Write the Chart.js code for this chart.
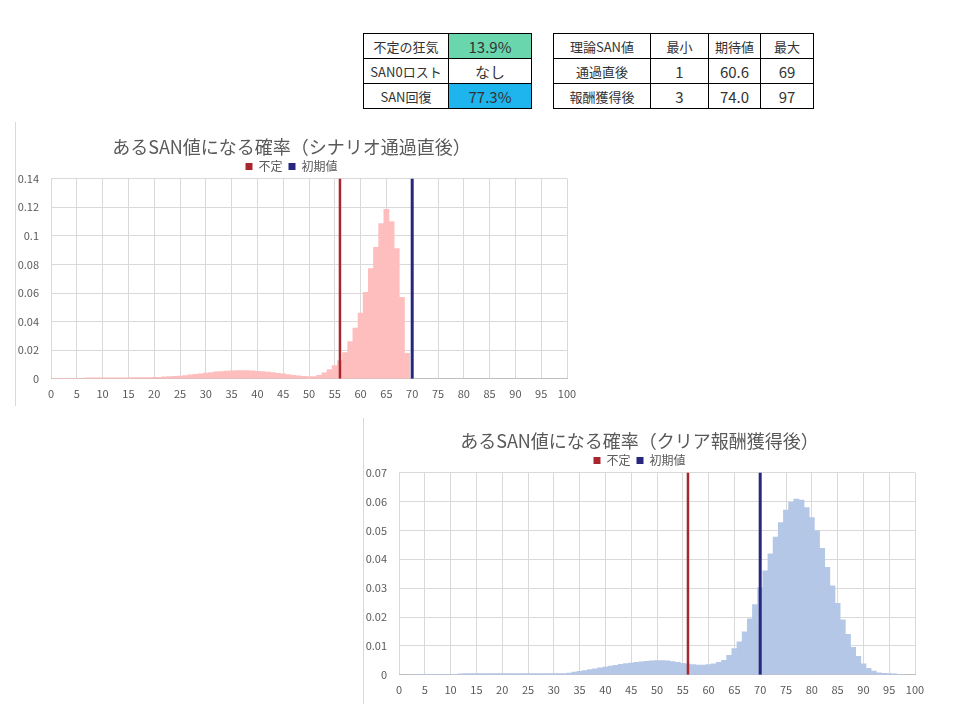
<!DOCTYPE html>
<html lang="ja">
<head>
<meta charset="utf-8">
<script src="https://cdn.jsdelivr.net/npm/chart.js@4.4.1/dist/chart.umd.min.js"></script>
<style>
  body { margin: 0; background: #fff; font-family: 'Noto Sans CJK JP', sans-serif; }
  .page { position: relative; width: 960px; height: 720px; overflow: hidden; }
  table { position: absolute; border-collapse: collapse; font-size: 13px; color: #333; table-layout: fixed; }
  td { border: 1px solid #000; text-align: center; height: 24px; padding: 0; white-space: nowrap; }
  td.num { font-size: 15px; }
  .chartbox { position: absolute; border-left: 1px solid #d9d9d9; }
</style>
</head>
<body>
<div class="page">
  <table id="summary" style="left:363px; top:33px; width:168px;">
    <colgroup><col style="width:85px"><col style="width:83px"></colgroup>
    <tr><td>不定の狂気</td><td class="num" style="background:#6ad6ae;">13.9%</td></tr>
    <tr><td>SAN0ロスト</td><td class="num">なし</td></tr>
    <tr><td>SAN回復</td><td class="num" style="background:#1eb4ee;">77.3%</td></tr>
  </table>
  <table id="theory" style="left:553px; top:33px; width:260px;">
    <colgroup><col style="width:97px"><col style="width:58px"><col style="width:52px"><col style="width:53px"></colgroup>
    <tr><td>理論SAN値</td><td>最小</td><td>期待値</td><td>最大</td></tr>
    <tr><td>通過直後</td><td class="num">1</td><td class="num">60.6</td><td class="num">69</td></tr>
    <tr><td>報酬獲得後</td><td class="num">3</td><td class="num">74.0</td><td class="num">97</td></tr>
  </table>

  <div class="chartbox" style="left:15px; top:122px; height:284px;">
    <canvas id="chartScenario" width="580" height="283" style="margin-top:3px"></canvas>
  </div>
  <div class="chartbox" style="left:363px; top:418px; height:286px;">
    <canvas id="chartReward" width="580" height="285" style="margin-top:1px"></canvas>
  </div>
</div>

<script>
// SAN値ごとの確率（シナリオ通過直後）: SAN 1..69
const scenarioStart = 1;
const scenarioProbs = [
  0.0001, 0.0001, 0.0002, 0.0002, 0.0003, 0.0004, 0.0006, 0.0006, 0.0007, 0.0007,
  0.0007, 0.0007, 0.0007, 0.0007, 0.0007, 0.0008, 0.0008, 0.0008, 0.0009, 0.0010,
  0.0011, 0.0013, 0.0015, 0.0017, 0.0019, 0.0023, 0.0027, 0.0031, 0.0035, 0.0040,
  0.0044, 0.0048, 0.0051, 0.0054, 0.0056, 0.0057, 0.0057, 0.0057, 0.0055, 0.0053,
  0.0050, 0.0047, 0.0043, 0.0039, 0.0034, 0.0029, 0.0025, 0.0021, 0.0017, 0.0015,
  0.0016, 0.0025, 0.0042, 0.0065, 0.0093, 0.0128, 0.0183, 0.0260, 0.0355, 0.0460,
  0.0605, 0.0770, 0.0920, 0.1085, 0.1185, 0.1100, 0.0910, 0.0570, 0.0178
];

// SAN値ごとの確率（クリア報酬獲得後）: SAN 3..97
const rewardStart = 3;
const rewardProbs = [
  0.0001, 0.0001, 0.0001, 0.0001, 0.0001, 0.0001, 0.0002, 0.0002, 0.0002, 0.0003,
  0.0004, 0.0004, 0.0004, 0.0004, 0.0004, 0.0004, 0.0004, 0.0004, 0.0004, 0.0004,
  0.0004, 0.0004, 0.0004, 0.0004, 0.0004, 0.0004, 0.0004, 0.0004, 0.0004, 0.0004,
  0.0006, 0.0009, 0.0012, 0.0015, 0.0018, 0.0021, 0.0024, 0.0027, 0.0030, 0.0033,
  0.0036, 0.0039, 0.0041, 0.0043, 0.0045, 0.0047, 0.0048, 0.0049, 0.0049, 0.0048,
  0.0046, 0.0043, 0.0040, 0.0037, 0.0035, 0.0034, 0.0034, 0.0035, 0.0038, 0.0043,
  0.0050, 0.0067, 0.0091, 0.0114, 0.0149, 0.0194, 0.0243, 0.0302, 0.0360, 0.0419,
  0.0477, 0.0527, 0.0570, 0.0597, 0.0608, 0.0605, 0.0579, 0.0544, 0.0498, 0.0438,
  0.0372, 0.0308, 0.0247, 0.0190, 0.0140, 0.0095, 0.0064, 0.0038, 0.0022, 0.0013,
  0.0007, 0.0005, 0.0004, 0.0003, 0.0002
];

const madnessSan = 56;   // 不定
const initialSan = 70;   // 初期値
const markerLabels = ['不定', '初期値'];
const xTicks = { min: 0, max: 100, step: 5 };

const textColor = '#595959';
const gridColor = '#d9d9d9';
const redLine = '#a8262e';
const blueLine = '#27277f';

Chart.defaults.font.family = "'Noto Sans CJK JP', sans-serif";
Chart.defaults.color = textColor;

// legend box is a bit taller than excel's, trim it so the plot starts higher
const legendTrim = {
  id: 'legendTrim',
  afterInit: chart => {
    const fit = chart.legend.fit;
    chart.legend.fit = function () {
      fit.call(this);
      this.height -= 4;
    };
  }
};

const makeChart = (canvasId, title, start, probs, barColor, yMax, yStep) => {
  const points = probs.map((p, i) => ({ x: start + i, y: p }));
  const vline = san => [{ x: san, y: 0 }, { x: san, y: yMax }];
  const ctx = document.getElementById(canvasId).getContext('2d');

  return new Chart(ctx, {
    type: 'bar',
    plugins: [legendTrim],
    data: {
      datasets: [
        {
          type: 'bar',
          label: '確率',
          data: points,
          backgroundColor: barColor,
          borderWidth: 0,
          barPercentage: 1,
          categoryPercentage: 1,
          order: 2
        },
        {
          type: 'line',
          label: markerLabels[0],
          data: vline(madnessSan),
          borderColor: redLine,
          backgroundColor: redLine,
          borderWidth: 2.5,
          pointRadius: 0,
          order: 1
        },
        {
          type: 'line',
          label: markerLabels[1],
          data: vline(initialSan),
          borderColor: blueLine,
          backgroundColor: blueLine,
          borderWidth: 3,
          pointRadius: 0,
          order: 1
        }
      ]
    },
    options: {
      responsive: false,
      animation: false,
      layout: { padding: { left: 0, right: 29, top: 0, bottom: 0 } },
      plugins: {
        tooltip: { enabled: false },
        title: {
          display: true,
          text: title,
          color: textColor,
          font: { size: 18, weight: 'normal' },
          padding: { top: 11, bottom: -3 }
        },
        legend: {
          position: 'top',
          labels: {
            boxWidth: 7,
            boxHeight: 7,
            padding: 6,
            color: textColor,
            font: { size: 12 },
            filter: item => item.datasetIndex > 0,
            generateLabels: chart =>
              Chart.defaults.plugins.legend.labels.generateLabels(chart)
                .map(l => ({ ...l, lineWidth: 0 }))
          }
        }
      },
      scales: {
        x: {
          type: 'linear',
          min: xTicks.min,
          max: xTicks.max,
          offset: false,
          grid: { color: gridColor, drawTicks: false, offset: false },
          border: { color: '#bfbfbf' },
          ticks: { stepSize: xTicks.step, padding: 8, font: { size: 11 }, color: textColor }
        },
        y: {
          min: 0,
          max: yMax,
          grid: { color: gridColor, drawTicks: false },
          border: { display: false },
          ticks: {
            stepSize: yStep,
            padding: 12,
            font: { size: 11 },
            color: textColor,
            callback: v => String(+v.toFixed(3))
          },
          afterFit: s => { s.width = 35; }
        }
      }
    }
  });
};

makeChart('chartScenario', 'あるSAN値になる確率（シナリオ通過直後）',
  scenarioStart, scenarioProbs, 'rgb(255,190,190)', 0.14, 0.02);
makeChart('chartReward', 'あるSAN値になる確率（クリア報酬獲得後）',
  rewardStart, rewardProbs, '#b4c7e7', 0.07, 0.01);
</script>
</body>
</html>
